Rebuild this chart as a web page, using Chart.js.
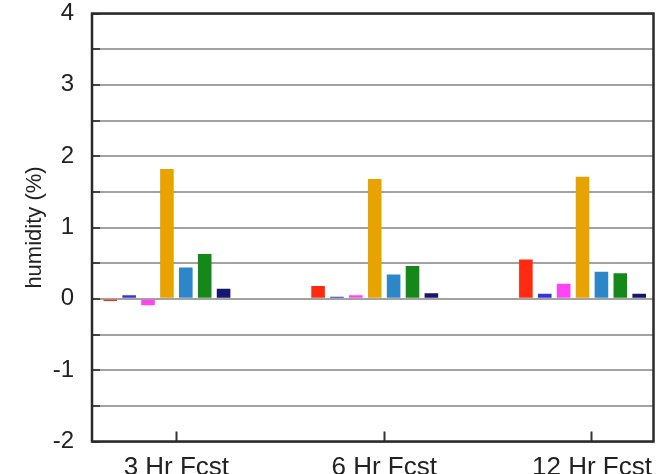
<!DOCTYPE html>
<html>
<head>
<meta charset="utf-8">
<script src="https://cdn.jsdelivr.net/npm/chart.js@4"></script>
<style>
  html, body { margin: 0; padding: 0; background: #fff; }
</style>
</head>
<body>
<canvas id="humidityChart" width="667" height="474"></canvas>
<script>
// forecast lead times (x categories) and where they sit on the x axis
const forecastLabels = ["3 Hr Fcst", "6 Hr Fcst", "12 Hr Fcst"];
const forecastPos = [1, 2, 3];

// one value per forecast for each series (humidity %)
const redValues = [-0.03, 0.18, 0.55];
const blueValues = [0.05, 0.03, 0.07];
const magentaValues = [-0.09, 0.05, 0.21];
const orangeValues = [1.82, 1.68, 1.71];
const steelValues = [0.44, 0.34, 0.38];
const greenValues = [0.63, 0.46, 0.36];
const navyValues = [0.14, 0.08, 0.07];
const emptyValues = [null, null, null]; // 8th slot has no bars

const seriesNames = ["Exp 1", "Exp 2", "Exp 3", "Exp 4", "Exp 5", "Exp 6", "Exp 7", "Exp 8"];
const seriesValues = [redValues, blueValues, magentaValues, orangeValues, steelValues, greenValues, navyValues, emptyValues];
const seriesColors = ["#ff2a10", "#3434d8", "#ff44f4", "#e9a300", "#2c86c8", "#14891a", "#16166e", "#ffffff"];

// y axis ticks
const yMin = -2;
const yMax = 4;
const yStep = 0.5;

const fontFamily = "'Liberation Sans', Arial, sans-serif";

// dark frame round the plot area
const framePlugin = {
    id: "frame",
    afterDraw(chart) {
        const { ctx, chartArea: a } = chart;
        ctx.save();
        ctx.strokeStyle = "#2a2a2a";
        ctx.lineWidth = 2.5;
        ctx.strokeRect(a.left, a.top, a.right - a.left, a.bottom - a.top);
        ctx.restore();
    }
};

const datasets = seriesNames.map((name, i) => ({
    label: name,
    data: forecastPos.map((x, j) => ({ x: x, y: seriesValues[i][j] })),
    backgroundColor: seriesColors[i],
    borderWidth: 0,
    categoryPercentage: 0.727,
    barPercentage: 0.72
}));

new Chart(document.getElementById("humidityChart"), {
    type: "bar",
    data: { datasets: datasets },
    plugins: [framePlugin],
    options: {
        responsive: false,
        devicePixelRatio: 1,
        animation: false,
        layout: { padding: { left: 0, right: 13.5, top: 13.5, bottom: 0 } },
        plugins: {
            legend: { display: false },
            tooltip: { enabled: false }
        },
        scales: {
            x: {
                type: "linear",
                min: 0.594,
                max: 3.296,
                offset: false,
                afterFit(scale) {
                    scale.height = 32.5;
                    scale.paddingLeft = 0;
                    scale.paddingRight = 0;
                },
                afterBuildTicks(scale) {
                    scale.ticks = forecastPos.map(v => ({ value: v }));
                },
                ticks: {
                    autoSkip: false,
                    maxRotation: 0,
                    padding: 21,
                    color: "#222",
                    font: { family: fontFamily, size: 26 },
                    callback: v => forecastLabels[forecastPos.indexOf(v)]
                },
                grid: {
                    offset: false,
                    drawOnChartArea: false,
                    tickLength: -10,
                    tickColor: "#333",
                    tickWidth: 2
                },
                border: { display: false }
            },
            y: {
                min: yMin,
                max: yMax,
                afterFit(scale) {
                    scale.width = 92;
                    scale.paddingTop = 0;
                    scale.paddingBottom = 0;
                },
                ticks: {
                    stepSize: yStep,
                    padding: 26,
                    color: "#222",
                    font: { family: fontFamily, size: 24, lineHeight: 1 },
                    callback: v => Number.isInteger(v) ? String(v) : ""
                },
                grid: {
                    color: "#a2a2a2",
                    lineWidth: 2,
                    tickLength: -8,
                    tickColor: "#444",
                    tickWidth: 2
                },
                border: { display: false },
                title: {
                    display: true,
                    text: "humidity (%)",
                    color: "#222",
                    font: { family: fontFamily, size: 22 },
                    padding: { top: 22, bottom: 0 }
                }
            }
        }
    }
});
</script>
</body>
</html>
